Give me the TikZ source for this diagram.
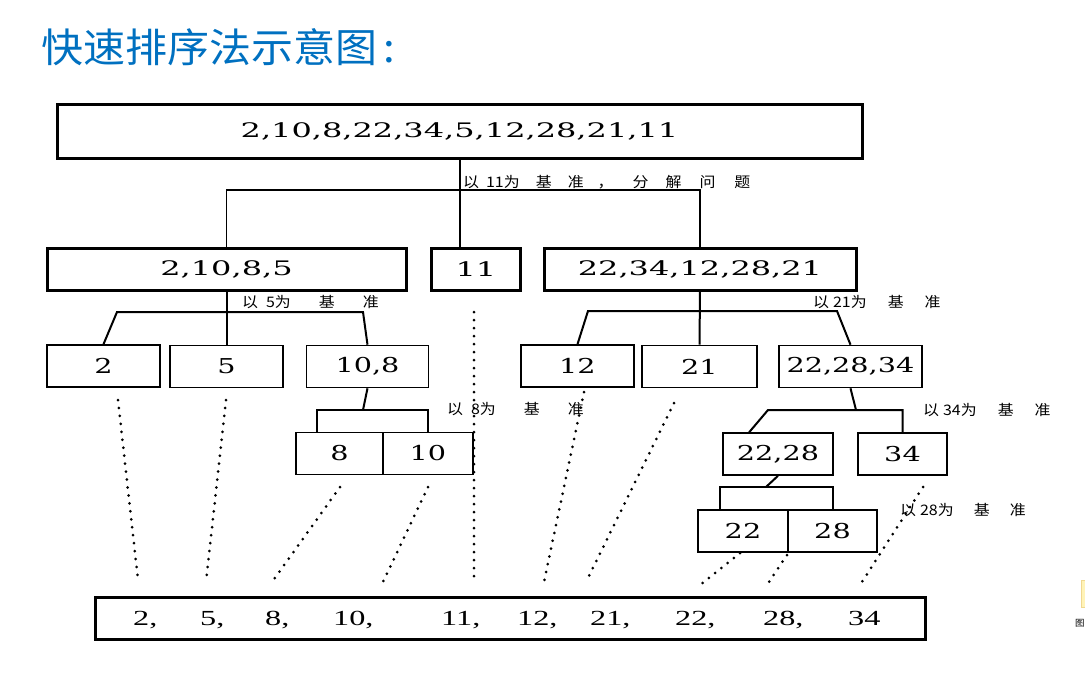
\documentclass[tikz,border=0pt]{standalone}
\usepackage{fontspec}
\usepackage{xcolor}
\newfontfamily\cjkfont[FakeStretch=1.05]{Noto Sans CJK SC}
\newfontfamily\lblfont[FakeStretch=1.1]{Noto Sans CJK SC}
\newfontfamily\numfont[FakeStretch=1.4]{DejaVu Serif}
\newfontfamily\bignumfont[FakeStretch=1.6]{DejaVu Serif}
\newfontfamily\resfont[FakeStretch=1.5]{Liberation Serif}
\definecolor{titleblue}{HTML}{0070C0}
\definecolor{notefill}{HTML}{FFF3B8}
\definecolor{noteline}{HTML}{F0D890}
\tikzset{
  box/.style={draw, line width=1.6pt, minimum height=42pt, inner sep=0pt,
    font=\numfont\fontsize{20.5}{24}\selectfont},
  bigbox/.style={box, line width=3pt, font=\bignumfont\fontsize{20}{24}\selectfont},
  link/.style={line width=2pt},
  dotline/.style={line width=3pt, line cap=round, dash pattern=on 0pt off 8pt},
  lbl/.style={anchor=west, inner sep=0pt, font=\lblfont\fontsize{14.5}{16}\selectfont},
  res/.style={anchor=base west, inner sep=0pt, font=\resfont\fontsize{21.5}{24}\selectfont}
}
\begin{document}
\begin{tikzpicture}[x=1pt, y=-1pt]
    \useasboundingbox (0,0) rectangle (1085,673);
    \clip (0,0) rectangle (1085,673);

    % Title
    \node[anchor=base west, inner sep=0pt, text=titleblue, font=\cjkfont\fontsize{40}{44}\selectfont] (title) at (41,62) {快速排序法示意图\hspace{6pt}:};

    % Row 1 and row 2
    \node[bigbox, minimum width=805pt, minimum height=54pt] (all) at (459.5,131) {2,10,8,22,34,5,12,28,21,11};
    \node[bigbox, minimum width=359pt] (left) at (226.5,269) {2,10,8,5};
    \node[bigbox, minimum width=89pt] (k11) at (476,269) {11};
    \node[bigbox, minimum width=312pt] (right) at (700,269) {22,34,12,28,21};

    % Row 3
    \node[box, minimum width=113pt] (n2) at (103.5,366) {2};
    \node[box, minimum width=113pt] (n5) at (226.5,366.5) {5};
    \node[box, minimum width=122pt] (n108) at (367.5,366.5) {10,8};
    \node[box, minimum width=113pt] (n12) at (577.5,366) {12};
    \node[box, minimum width=115pt] (n21) at (699.5,366.5) {21};
    \node[box, minimum width=143pt] (n222834) at (850.5,366.5) {22,28,34};

    % Row 4 and row 5
    \node[box, minimum width=87pt] (n8) at (339.5,453.5) {8};
    \node[box, minimum width=90pt] (n10) at (428,453.5) {10};
    \node[box, minimum width=110pt] (n2228) at (778,454) {22,28};
    \node[box, minimum width=89pt] (n34) at (902.5,454) {34};
    \node[box, minimum width=90pt] (n22) at (743,531) {22};
    \node[box, minimum width=89pt] (n28) at (832.5,531) {28};

    % Result
    \node[bigbox, minimum width=830pt] (result) at (510,618) {};
    \foreach \v/\x [count=\i] in {2/133, 5/200, 8/265, 10/333, 11/441, 12/517, 21/590, 22/675, 28/763}
        \node[res] (r\i) at (\x,625) {\v,};
    \node[res] (r10) at (848,625) {34};

    % Junctions
    \coordinate (bar1) at (460,190);
    \coordinate (b2l) at (117,312);
    \coordinate (b2r) at (363,312);
    \coordinate (b3) at (363,410);
    \coordinate (b4l) at (588,311);
    \coordinate (b4r) at (837,311);
    \coordinate (b5) at (856,410);
    \coordinate (b5l) at (768,410);
    \coordinate (b6) at (766,487);

    % Edges
    \draw[link] (all.south) -- (all.south |- k11.north);
    \draw[link, line width=1.7pt] (left.north) -- (left.north |- bar1) -- (right.north |- bar1) -- (right.north);
    \draw[link] (left.south) -- (n5.north);
    \draw[link] (n2.north) -- (b2l) -- (b2r) -- (n108.north);
    \draw[link] (n108.south) -- (b3);
    \draw[link] ([xshift=22pt]n8.north west) |- (b3) -| (n10.north);
    \draw[link] (right.south) -- (n21.north);
    \draw[link] (n12.north) -- (b4l) -- (b4r) -- (n222834.north);
    \draw[link] (n222834.south) -- (b5);
    \draw[link] ([xshift=27pt]n2228.north west) -- (b5l) -- (n34.north |- b5) -- (n34.north);
    \draw[link] (n2228.south) -- (b6);
    \draw[link] ([xshift=23pt]n22.north west) |- (b6) -| (n28.north);

    % Labels
    \node[lbl] (l11) at (463,182) {以\hspace{7pt}11为\hspace{16pt}基\hspace{16pt}准\hspace{14pt}，\hspace{19pt}分\hspace{17pt}解\hspace{18pt}问\hspace{19pt}题};
    \node[lbl] (l5) at (242,302) {以\hspace{8pt}5为\hspace{28pt}基\hspace{28pt}准};
    \node[lbl] (l21) at (813,302) {以\hspace{4pt}21为\hspace{21pt}基\hspace{21pt}准};
    \node[lbl] (l8) at (447,409) {以\hspace{8pt}8为\hspace{28pt}基\hspace{28pt}准};
    \node[lbl] (l34) at (923,410) {以\hspace{4pt}34为\hspace{21pt}基\hspace{21pt}准};
    \node[lbl] (l28) at (900,510) {以\hspace{4pt}28为\hspace{20pt}基\hspace{20pt}准};

    % Dotted lines down to the result
    \foreach \i/\sx/\sy/\ex/\ey in {1/118/400/138/580, 2/226/400/206/582, 3/340/487/272/582,
        4/428/487/383/582, 5/474/312/474/582, 6/584/392/544/582, 7/674/403/586/582,
        8/740/553/700/585, 9/787/555/767/585, 10/923/487/860/585} {
        \coordinate (ds\i) at (\sx,\sy);
        \coordinate (de\i) at (\ex,\ey);
        \draw[dotline] (ds\i) -- (de\i);
    }

    % Note at the right edge
    \node[draw=noteline, fill=notefill, minimum width=10pt, minimum height=27pt, inner sep=0pt] (note) at (1086,593.5) {};
    \node[anchor=west, inner sep=0pt, font=\cjkfont\fontsize{9}{11}\selectfont] (notetext) at (1075,623) {图};
\end{tikzpicture}
\end{document}
